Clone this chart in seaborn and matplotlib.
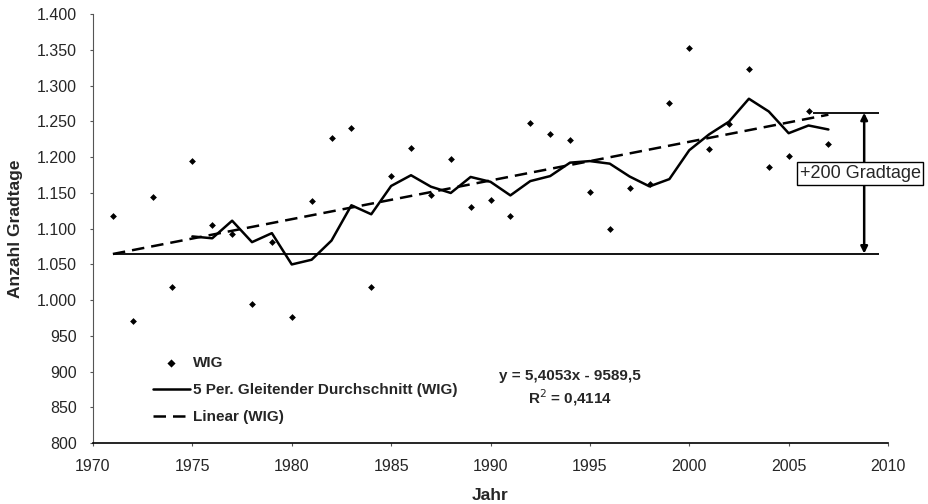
import numpy as np
import pandas as pd
import matplotlib
matplotlib.use("Agg")
import matplotlib.pyplot as plt
import seaborn as sns
from matplotlib.ticker import FuncFormatter

# Heizgradtage WIG
years = list(range(1971, 2008))
wig = [1118, 970, 1144, 1018, 1195, 1105, 1093, 994, 1081, 976,
       1138, 1227, 1241, 1018, 1174, 1213, 1147, 1197, 1130, 1140,
       1118, 1247, 1232, 1224, 1151, 1100, 1157, 1163, 1275, 1353,
       1211, 1246, 1323, 1186, 1201, 1265, 1218]

x_ticks = [1970, 1975, 1980, 1985, 1990, 1995, 2000, 2005, 2010]
y_ticks = list(range(800, 1401, 50))

base_level = 1065
top_level = 1262
equation = "y = 5,4053x - 9589,5"
r_squared = "R$^2$ = 0,4114"

df = pd.DataFrame({"Jahr": years, "WIG": wig})
df["MA5"] = df["WIG"].rolling(5).mean()

sns.set_style("white")
plt.rcParams["font.family"] = ["Liberation Sans", "DejaVu Sans"]

fig = plt.figure(figsize=(9.29, 5.04), dpi=100)
ax = fig.add_axes([0.1001, 0.121, 0.8558, 0.851])

sns.scatterplot(data=df, x="Jahr", y="WIG", marker="D", s=12, color="black",
                edgecolor="black", linewidth=0, ax=ax, label="WIG", zorder=4)
sns.lineplot(data=df, x="Jahr", y="MA5", color="black", linewidth=1.8, ax=ax,
             label="5 Per. Gleitender Durchschnitt (WIG)", zorder=3)
sns.regplot(data=df, x="Jahr", y="WIG", scatter=False, ci=None, ax=ax,
            color="black", line_kws=dict(linestyle=(0, (5, 2.8)), linewidth=1.8),
            label="Linear (WIG)")

# reference lines and the +200 arrow
ax.hlines(base_level, 1971, 2009.55, color="black", linewidth=1.3, zorder=2)
ax.hlines(top_level, 2006.2, 2009.55, color="black", linewidth=1.3, zorder=2)
ax.annotate("", xy=(2008.8, base_level), xytext=(2008.8, top_level),
            arrowprops=dict(arrowstyle="<|-|>", color="black", lw=1.8,
                            mutation_scale=10, shrinkA=0, shrinkB=0))
ax.text(2008.6, 1177, "+200 Gradtage", ha="center", va="center", fontsize=13,
        bbox=dict(boxstyle="square,pad=0.15", facecolor="white",
                  edgecolor="black", linewidth=1))

ax.text(1994.0, 894, equation, ha="center", va="center", fontsize=11,
        fontweight="bold")
ax.text(1994.0, 863, r_squared, ha="center", va="center", fontsize=11,
        fontweight="bold")

ax.set_xlim(1970, 2010)
ax.set_ylim(800, 1400)
ax.set_xticks(x_ticks)
ax.set_yticks(y_ticks)
ax.yaxis.set_major_formatter(FuncFormatter(lambda v, p: f"{int(v):,}".replace(",", ".")))
ax.tick_params(axis="both", direction="out", length=2.5, width=0.8, labelsize=11.5,
               left=True, bottom=True, color="#555555", pad=9)
ax.set_xlabel("Jahr", fontsize=12.5, fontweight="bold", labelpad=10)
ax.set_ylabel("Anzahl Gradtage", fontsize=12.5, fontweight="bold", labelpad=10)

sns.despine(ax=ax)
ax.spines["left"].set_color("#555555")
ax.spines["bottom"].set_color("black")
ax.spines["bottom"].set_linewidth(1.2)

leg = ax.legend(loc="lower left", bbox_to_anchor=(0.068, 0.03), borderaxespad=0,
                frameon=False, prop=dict(weight="bold", size=11), handlelength=2.4,
                handletextpad=0.2, labelspacing=0.85, markerscale=1.2)

fig.savefig("out.png", dpi=100)
